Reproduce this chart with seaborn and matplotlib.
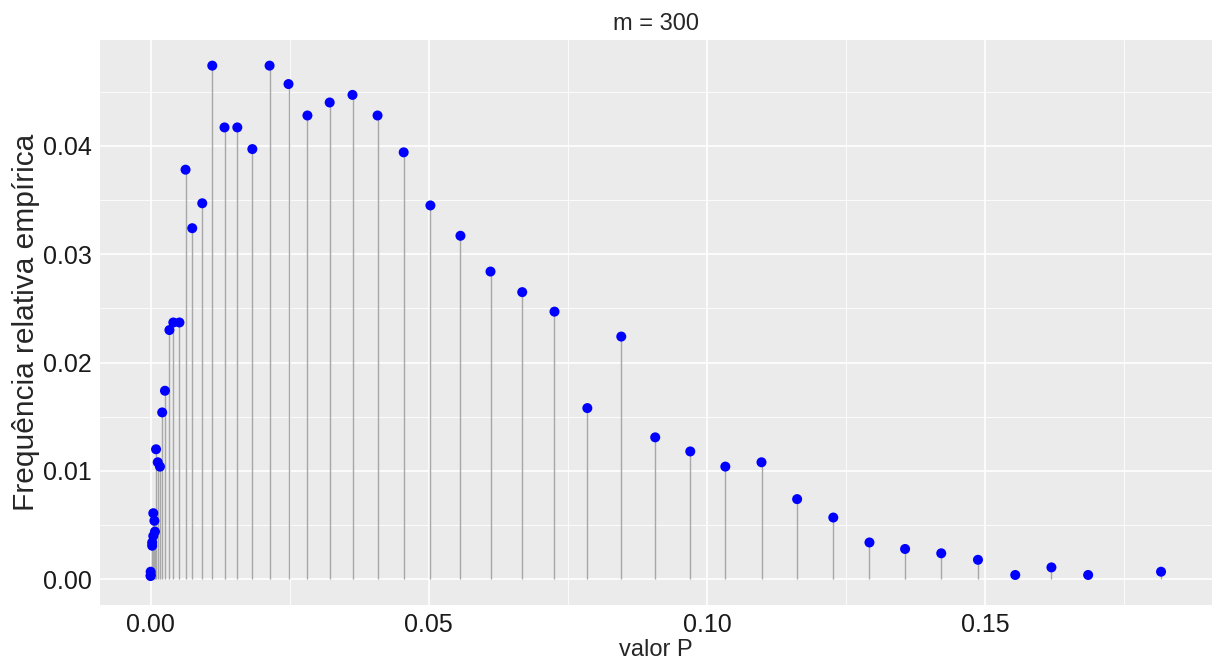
import numpy as np
import pandas as pd
import matplotlib
matplotlib.use('Agg')
import matplotlib.pyplot as plt
import seaborn as sns
from matplotlib.ticker import MultipleLocator, FormatStrFormatter

valor_p = [0.00001, 0.00003, 0.00005, 0.0003, 0.0003, 0.0005, 0.0008, 0.0007, 0.0005,
           0.0010, 0.0013, 0.0017, 0.0021, 0.0026, 0.0034, 0.0041, 0.0052,
           0.0063, 0.0075, 0.0093, 0.0111, 0.0133, 0.0156, 0.0183, 0.0214,
           0.0248, 0.0282, 0.0322, 0.0363, 0.0408, 0.0455, 0.0503, 0.0557,
           0.0611, 0.0668, 0.0726, 0.0785, 0.0846, 0.0907, 0.0970, 0.1033,
           0.1098, 0.1162, 0.1227, 0.1292, 0.1356, 0.1421, 0.1487, 0.1554,
           0.1619, 0.1685, 0.1816]
freq = [0.0003, 0.0007, 0.0004, 0.0031, 0.0034, 0.0040, 0.0044, 0.0054, 0.0061,
        0.0120, 0.0108, 0.0104, 0.0154, 0.0174, 0.0230, 0.0237, 0.0237,
        0.0378, 0.0324, 0.0347, 0.0474, 0.0417, 0.0417, 0.0397, 0.0474,
        0.0457, 0.0428, 0.0440, 0.0447, 0.0428, 0.0394, 0.0345, 0.0317,
        0.0284, 0.0265, 0.0247, 0.0158, 0.0224, 0.0131, 0.0118, 0.0104,
        0.0108, 0.0074, 0.0057, 0.0034, 0.0028, 0.0024, 0.0018, 0.0004,
        0.0011, 0.0004, 0.0007]
titulo = 'm = 300'

df = pd.DataFrame({'p': valor_p, 'freq': freq})

sns.set_style('darkgrid', {'axes.facecolor': '#EBEBEB', 'grid.color': 'white'})
plt.rcParams['font.family'] = ['Liberation Sans', 'DejaVu Sans']

fig, ax = plt.subplots(figsize=(12.14, 6.66), dpi=100)
fig.subplots_adjust(left=0.0824, right=0.998, top=0.94, bottom=0.0916)

'''
hastes cinzas do zero ate cada ponto, depois os pontos azuis
'''
ax.vlines(df['p'], 0, df['freq'], color='#A8A8A8', linewidth=1.0, zorder=2)
sns.scatterplot(data=df, x='p', y='freq', color='blue', s=52, edgecolor='none', ax=ax, zorder=3)

ax.margins(x=0.05, y=0.05)
ax.xaxis.set_major_locator(MultipleLocator(0.05))
ax.xaxis.set_minor_locator(MultipleLocator(0.025))
ax.yaxis.set_major_locator(MultipleLocator(0.01))
ax.yaxis.set_minor_locator(MultipleLocator(0.005))
ax.xaxis.set_major_formatter(FormatStrFormatter('%.2f'))
ax.yaxis.set_major_formatter(FormatStrFormatter('%.2f'))
ax.grid(which='major', color='white', linewidth=1.2)
ax.grid(which='minor', color='white', linewidth=0.6)
ax.set_axisbelow(True)
for s in ax.spines.values():
    s.set_visible(False)

ax.tick_params(axis='both', which='major', labelsize=18, length=4, width=0.8,
               color='#333333', labelcolor='#1a1a1a', direction='out', pad=2)
ax.tick_params(axis='both', which='minor', length=0)
ax.set_xlabel('valor P', fontsize=17, labelpad=1)
ax.set_ylabel('Frequência relativa empírica', fontsize=21.5)
ax.yaxis.set_label_coords(-0.054, 0.5)
ax.set_title(titulo, fontsize=17, pad=7)

plt.savefig('out.png', dpi=100)
